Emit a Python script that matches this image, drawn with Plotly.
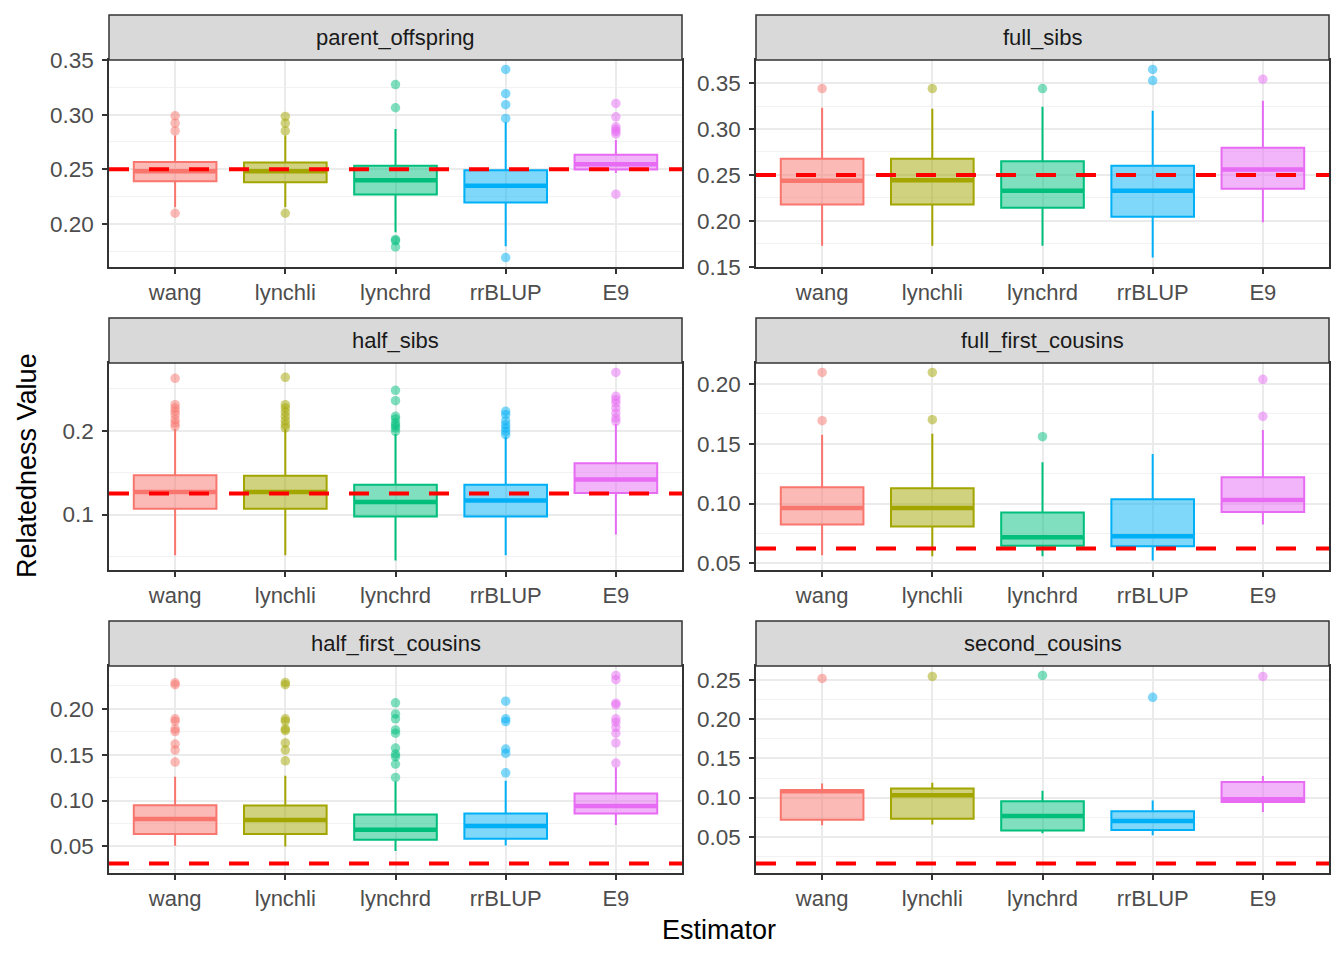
import plotly.graph_objects as go

ESTIMATORS = ["wang", "lynchli", "lynchrd", "rrBLUP", "E9"]
PANELS = ["parent_offspring", "full_sibs", "half_sibs",
          "full_first_cousins", "half_first_cousins", "second_cousins"]
REF = [0.25, 0.25, 0.125, 0.0625, 0.03125, 0.015625]
COLORS = ["#F8766D", "#A3A500", "#00BF7D", "#00B0F6", "#E76BF3"]
FILLS = ["rgba(248,118,109,0.5)", "rgba(163,165,0,0.5)", "rgba(0,191,125,0.5)",
         "rgba(0,176,246,0.5)", "rgba(231,107,243,0.5)"]

# box statistics per panel (rows) and estimator (columns)
Q1 = [
    [0.2389, 0.2380, 0.2269, 0.2195, 0.2497],
    [0.2178, 0.2178, 0.2142, 0.2046, 0.2350],
    [0.1071, 0.1071, 0.0976, 0.0976, 0.1258],
    [0.0825, 0.0808, 0.0647, 0.0644, 0.0930],
    [0.0635, 0.0635, 0.0573, 0.0584, 0.0858],
    [0.0716, 0.0729, 0.0579, 0.0587, 0.0944],
]
MEDIAN = [
    [0.2482, 0.2482, 0.2398, 0.2349, 0.2546],
    [0.2438, 0.2441, 0.2328, 0.2328, 0.2559],
    [0.1270, 0.1270, 0.1151, 0.1167, 0.1417],
    [0.0964, 0.0964, 0.0719, 0.0727, 0.1031],
    [0.0799, 0.0788, 0.0682, 0.0723, 0.0942],
    [0.1082, 0.1030, 0.0764, 0.0699, 0.0978],
]
Q3 = [
    [0.2567, 0.2562, 0.2531, 0.2491, 0.2632],
    [0.2676, 0.2676, 0.2650, 0.2599, 0.2796],
    [0.1468, 0.1464, 0.1357, 0.1357, 0.1611],
    [0.1136, 0.1128, 0.0925, 0.1036, 0.1220],
    [0.0949, 0.0945, 0.0847, 0.0858, 0.1077],
    [0.1095, 0.1116, 0.0953, 0.0824, 0.1198],
]
WHISK_LO = [
    [0.2152, 0.2152, 0.1922, 0.1795, 0.2466],
    [0.1728, 0.1728, 0.1728, 0.1600, 0.1984],
    [0.0516, 0.0516, 0.0452, 0.0516, 0.0762],
    [0.0569, 0.0560, 0.0560, 0.0524, 0.0825],
    [0.0507, 0.0500, 0.0449, 0.0511, 0.0734],
    [0.0647, 0.0656, 0.0544, 0.0518, 0.0815],
]
WHISK_HI = [
    [0.2810, 0.2810, 0.2869, 0.2930, 0.2768],
    [0.3232, 0.3220, 0.3243, 0.3199, 0.3308],
    [0.2020, 0.2020, 0.1960, 0.1930, 0.2080],
    [0.1576, 0.1584, 0.1345, 0.1415, 0.1615],
    [0.1259, 0.1270, 0.1208, 0.1215, 0.1361],
    [0.1180, 0.1189, 0.1086, 0.0961, 0.1275],
]
OUTLIERS = [
    [[0.2989, 0.2922, 0.2851, 0.2097],
     [0.2983, 0.2922, 0.2851, 0.2097],
     [0.3275, 0.3063, 0.1857, 0.1845, 0.1789],
     [0.3414, 0.3192, 0.3091, 0.2965, 0.1691],
     [0.3103, 0.2980, 0.2889, 0.2866, 0.2845, 0.2823, 0.2272]],
    [[0.3440], [0.3440], [0.3440], [0.3649, 0.3528], [0.3543]],
    [[0.2623, 0.2310, 0.2270, 0.2230, 0.2190, 0.2131, 0.2091, 0.2052],
     [0.2635, 0.2310, 0.2270, 0.2222, 0.2171, 0.2119, 0.2071, 0.2032],
     [0.2480, 0.2357, 0.2171, 0.2139, 0.2091, 0.2059, 0.2032, 0.1992],
     [0.2230, 0.2190, 0.2119, 0.2071, 0.2032, 0.1992, 0.1952],
     [0.2694, 0.2409, 0.2369, 0.2329, 0.2270, 0.2210, 0.2151, 0.2111]],
    [[0.2096, 0.1693], [0.2096, 0.1701], [0.1559], [], [0.2038, 0.1729]],
    [[0.2285, 0.2263, 0.1891, 0.1865, 0.1781, 0.1752, 0.1617, 0.1551, 0.1420],
     [0.2288, 0.2263, 0.1891, 0.1865, 0.1781, 0.1763, 0.1628, 0.1551, 0.1434],
     [0.2066, 0.1945, 0.1891, 0.1770, 0.1734, 0.1573, 0.1507, 0.1478, 0.1398, 0.1252],
     [0.2084, 0.1891, 0.1861, 0.1562, 0.1515, 0.1303],
     [0.2365, 0.2318, 0.2062, 0.2044, 0.1891, 0.1854, 0.1799, 0.1734, 0.1628, 0.1409]],
    [[0.2522], [0.2548], [0.2561], [0.2281], [0.2548]],
]
Y_DTICK = [0.05, 0.05, 0.1, 0.05, 0.05, 0.05]
Y_FMT = [".2f", ".2f", ".1f", ".2f", ".2f", ".2f"]

W, H = 1344, 960
XDOM = [(109 / W, 682 / W), (756 / W, 1329 / W)]
ROWS_PX = [(60, 267), (363, 570), (666, 873)]
STRIP_H = 45
BOX_W = 0.75

FONT = "Liberation Sans, Arial, sans-serif"
fig = go.Figure()
layout = dict(
    width=W, height=H, margin=dict(l=0, r=0, t=0, b=0, pad=0, autoexpand=False),
    paper_bgcolor="white", plot_bgcolor="white",
    showlegend=False, boxmode="overlay",
    font=dict(family=FONT, size=22, color="#4D4D4D"),
)
shapes = []
annotations = []

for p, name in enumerate(PANELS):
    r, c = divmod(p, 2)
    n = p + 1
    xa = "x" if n == 1 else f"x{n}"
    ya = "y" if n == 1 else f"y{n}"
    top_px, bot_px = ROWS_PX[r]
    ydom = (1 - bot_px / H, 1 - top_px / H)

    for i, est in enumerate(ESTIMATORS):
        fig.add_trace(go.Box(
            x=[est], q1=[Q1[p][i]], median=[MEDIAN[p][i]], q3=[Q3[p][i]],
            lowerfence=[WHISK_LO[p][i]], upperfence=[WHISK_HI[p][i]],
            boxpoints=False, whiskerwidth=0, width=BOX_W,
            fillcolor=FILLS[i], line=dict(color=COLORS[i], width=2),
            xaxis=xa, yaxis=ya, hoverinfo="skip",
        ))
        if OUTLIERS[p][i]:
            fig.add_trace(go.Scatter(
                x=[est] * len(OUTLIERS[p][i]), y=OUTLIERS[p][i], mode="markers",
                marker=dict(color=COLORS[i], size=9.5, opacity=0.5, line=dict(width=0)),
                xaxis=xa, yaxis=ya, hoverinfo="skip",
            ))
        shapes.append(dict(
            type="line", xref=xa, yref=ya,
            x0=i - BOX_W / 2, x1=i + BOX_W / 2, y0=MEDIAN[p][i], y1=MEDIAN[p][i],
            line=dict(color=COLORS[i], width=4.5), layer="above",
        ))

    # y range from data with 5% expansion
    vals = [REF[p]] + WHISK_LO[p] + WHISK_HI[p] + [v for o in OUTLIERS[p] for v in o]
    lo, hi = min(vals), max(vals)
    pad = (hi - lo) * 0.05

    layout["xaxis" + ("" if n == 1 else str(n))] = dict(
        domain=XDOM[c], anchor=ya, type="category", automargin=False,
        categoryorder="array", categoryarray=ESTIMATORS,
        range=[-0.6, len(ESTIMATORS) - 0.4],
        showgrid=True, gridcolor="#EBEBEB", gridwidth=1.6,
        showline=True, mirror=True, linecolor="#333333", linewidth=1.5,
        ticks="outside", ticklen=5, tickwidth=1.5, tickcolor="#333333",
        tickfont=dict(size=22, color="#4D4D4D"), zeroline=False,
    )
    layout["yaxis" + ("" if n == 1 else str(n))] = dict(
        domain=ydom, anchor=xa, range=[lo - pad, hi + pad], automargin=False,
        tickmode="linear", tick0=0, dtick=Y_DTICK[p], tickformat=Y_FMT[p],
        showgrid=True, gridcolor="#EBEBEB", gridwidth=1.6,
        minor=dict(tick0=0, dtick=Y_DTICK[p] / 2, showgrid=True,
                   gridcolor="#F2F2F2", gridwidth=0.9, ticks=""),
        showline=True, mirror=True, linecolor="#333333", linewidth=1.5,
        ticks="outside", ticklen=5, tickwidth=1.5, tickcolor="#333333",
        ticklabelstandoff=4,
        tickfont=dict(size=22.5, color="#4D4D4D"), zeroline=False,
    )

    shapes.append(dict(
        type="line", xref=f"{xa} domain", yref=ya, x0=0, x1=1,
        y0=REF[p], y1=REF[p], line=dict(color="#FF0000", width=4, dash="20px,20px"),
        layer="above",
    ))

    # strip
    s_bot = ydom[1]
    s_top = ydom[1] + STRIP_H / H
    shapes.append(dict(
        type="rect", xref="paper", yref="paper",
        x0=XDOM[c][0], x1=XDOM[c][1], y0=s_bot, y1=s_top,
        fillcolor="#D9D9D9", line=dict(color="#333333", width=1.5), layer="above",
    ))
    annotations.append(dict(
        text=name, xref="paper", yref="paper",
        x=(XDOM[c][0] + XDOM[c][1]) / 2, y=(s_bot + s_top) / 2,
        xanchor="center", yanchor="middle", showarrow=False,
        font=dict(size=22, color="#1A1A1A", family=FONT),
    ))

annotations.append(dict(
    text="Relatedness Value", xref="paper", yref="paper",
    x=27 / W, y=1 - 466 / H, textangle=-90, showarrow=False,
    xanchor="center", yanchor="middle", font=dict(size=27, color="black", family=FONT),
))
annotations.append(dict(
    text="Estimator", xref="paper", yref="paper",
    x=(109 + 1329) / 2 / W, y=1 - 930 / H, showarrow=False,
    xanchor="center", yanchor="middle", font=dict(size=27, color="black", family=FONT),
))

layout["shapes"] = shapes
layout["annotations"] = annotations
fig.update_layout(**layout)
fig.write_html("out.html", config={"displayModeBar": False},
               post_script="document.body.style.margin='0';document.body.style.overflow='hidden';")
